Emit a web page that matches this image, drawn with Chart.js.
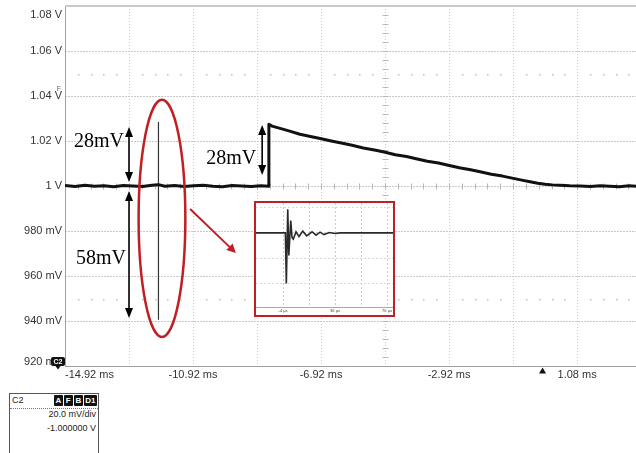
<!DOCTYPE html>
<html>
<head>
<meta charset="utf-8">
<script src="https://cdn.jsdelivr.net/npm/chart.js@4"></script>
<style>
  html, body { margin: 0; padding: 0; background: #fff; overflow: hidden; }
  #wrap { position: relative; width: 636px; height: 453px; }
  #scope { position: absolute; left: 0; top: 0; }
  #insetBox { position: absolute; left: 254px; top: 201px; width: 141px; height: 116px;
    border: 2px solid #c01f24; box-sizing: border-box; background: #fff; }
  #insetBox canvas { display: block; }
  #info { position: absolute; left: 9px; top: 393px; width: 90px; height: 70px;
    border: 1px solid #555; box-sizing: border-box; background: #fff;
    font-family: "Liberation Sans", Arial, sans-serif; font-size: 9px; color: #222; }
  #info .hdr { position: absolute; left: 0; top: 0; right: 0; height: 14px; border-bottom: 1px dotted #777; }
  #info .ch { position: absolute; left: 2px; top: 1px; line-height: 11px; }
  #info .tags { position: absolute; right: 1px; top: 1px; }
  #info .tags b { display: inline-block; background: #111; color: #fff; font-size: 8px; line-height: 11px;
    padding: 0 1.5px; margin-left: 1px; border-radius: 1px; min-width: 6px; text-align: center; }
  #info .row { position: absolute; right: 2px; line-height: 12px; }
</style>
</head>
<body>
<div id="wrap">
  <canvas id="scope" width="636" height="453"></canvas>
  <div id="insetBox"><canvas id="inset" width="137" height="112"></canvas></div>
  <div id="info">
    <div class="hdr"><span class="ch">C2</span><span class="tags"><b>A</b><b>F</b><b>B</b><b>D1</b></span></div>
    <div class="row" style="top:14px">20.0 mV/div</div>
    <div class="row" style="top:28px">-1.000000 V</div>
  </div>
</div>
<script>
// main trace, time in ms, level in V
var traceMs = [-14.92, -14.6, -14.3, -14.0, -13.7, -13.4, -13.1, -12.8, -12.5, -12.2,
  -12.0, -11.8, -11.5, -11.2, -10.9, -10.6, -10.3, -10.0, -9.7, -9.4,
  -9.1, -8.8, -8.56,
  -8.55, -8.45, -8.2, -7.9, -7.58, -7.25, -6.95, -6.6, -6.25, -5.95,
  -5.6, -5.25, -4.95, -4.6, -4.25, -3.95, -3.6, -3.25, -2.95, -2.6,
  -2.25, -1.95, -1.6, -1.25, -0.95, -0.65, -0.39, -0.15, 0.08, 0.3,
  0.55, 0.85, 1.17, 1.5, 1.8, 2.1, 2.4, 2.7, 2.92];
var traceV = [1.0002, 0.9998, 1.0003, 0.9999, 1.0001, 0.9997, 1.0002, 1.0000, 0.9998, 1.0003,
  1.0006, 0.9999, 1.0002, 0.9998, 1.0001, 1.0003, 0.9999, 0.9997, 1.0002, 1.0000,
  0.9998, 1.0001, 0.9999,
  1.0274, 1.0266, 1.0256, 1.0244, 1.0230, 1.0220, 1.0211, 1.0200, 1.0190, 1.0181,
  1.0169, 1.0160, 1.0151, 1.0139, 1.0131, 1.0121, 1.0110, 1.0102, 1.0092, 1.0081,
  1.0072, 1.0063, 1.0052, 1.0044, 1.0035, 1.0026, 1.0019, 1.0012, 1.0008, 1.0005,
  1.0003, 1.0001, 1.0000, 0.9998, 1.0001, 0.9999, 0.9997, 1.0001, 0.9999];

// the fast glitch (too quick to resolve at 2 ms/div)
var spikeMs = [-12.0, -12.0];
var spikeV = [1.0285, 0.9406];

// zoomed view of the glitch, time in us
var insetUs = [-24.8, -2.2, -1.46, -0.38, 0.46, 1.92, 2.92, 3.92, 6.0, 8.3,
  11.15, 14.2, 18.3, 21.4, 24.5, 27.5, 31.6, 36.0, 40.0, 80.6];
var insetV = [1.000, 1.000, 0.944, 1.026, 0.975, 1.0137, 0.995, 0.9931, 1.0012, 0.9959,
  1.0019, 0.9967, 1.0012, 0.9974, 1.0008, 0.9981, 1.0004, 0.9993, 1.000, 1.000];

// graticule and labels
var xGridMs = [-14.92, -12.92, -10.92, -8.92, -6.92, -4.92, -2.92, -0.92, 1.08];
var xLabelMs = [-14.92, -10.92, -6.92, -2.92, 1.08];
var xLabels = ['-14.92 ms', '-10.92 ms', '-6.92 ms', '-2.92 ms', '1.08 ms'];
var yGridV = [0.92, 0.94, 0.96, 0.98, 1.00, 1.02, 1.04, 1.06, 1.08];
var yLabelV = [1.08, 1.06, 1.04, 1.02, 1.00, 0.98, 0.96, 0.94, 0.92];
var yLabels = ['1.08 V', '1.06 V', '1.04 V', '1.02 V', '1 V', '980 mV', '960 mV', '940 mV', '920 mV'];
var insetGridUs = [-4, 16, 36, 56, 76];
var insetLabels = ['-4 \u00b5s', '', '36 \u00b5s', '', '76 \u00b5s'];
var insetGridV = [0.944, 0.972, 1.000, 1.028];

var X_MIN = -14.92, X_MAX = 2.92, Y_MIN = 0.92, Y_MAX = 1.08;
var X_CENTER = -4.92, Y_CENTER = 1.0, X_MINOR = 0.4, Y_MINOR = 0.004;
var TRIGGER_MS = 0;
var RED = '#c01f24';

function pts(xs, ys) {
  return xs.map(function (x, i) { return { x: x, y: ys[i] }; });
}

function headAt(ctx, x, y, ang, len, half) {
  ctx.beginPath();
  ctx.moveTo(x, y);
  ctx.lineTo(x - len * Math.cos(ang) + half * Math.sin(ang), y - len * Math.sin(ang) - half * Math.cos(ang));
  ctx.lineTo(x - len * Math.cos(ang) - half * Math.sin(ang), y - len * Math.sin(ang) + half * Math.cos(ang));
  ctx.closePath();
  ctx.fill();
}

function doubleArrow(ctx, x, yTop, yBot) {
  ctx.beginPath();
  ctx.moveTo(x, yTop + 6);
  ctx.lineTo(x, yBot - 6);
  ctx.stroke();
  headAt(ctx, x, yTop, -Math.PI / 2, 10, 4);
  headAt(ctx, x, yBot, Math.PI / 2, 10, 4);
}

var scopeDecor = {
  id: 'scopeDecor',
  beforeDatasetsDraw: function (chart) {
    var ctx = chart.ctx, a = chart.chartArea, xs = chart.scales.x, ys = chart.scales.y;
    var cx = Math.round(xs.getPixelForValue(X_CENTER)) + 0.5;
    var cy = Math.round(ys.getPixelForValue(Y_CENTER)) + 0.5;
    var k, px, py;
    ctx.save();
    // minor ticks along the centre axes
    ctx.strokeStyle = '#b8b8b8';
    ctx.lineWidth = 1;
    ctx.beginPath();
    for (k = 1; X_MIN + k * X_MINOR < X_MAX; k++) {
      px = Math.round(xs.getPixelForValue(X_MIN + k * X_MINOR)) + 0.5;
      ctx.moveTo(px, cy - 3); ctx.lineTo(px, cy + 3);
    }
    for (k = 1; Y_MIN + k * Y_MINOR < Y_MAX - 1e-9; k++) {
      py = Math.round(ys.getPixelForValue(Y_MIN + k * Y_MINOR)) + 0.5;
      ctx.moveTo(cx - 3, py); ctx.lineTo(cx + 3, py);
    }
    ctx.stroke();
    // dotted rows between the outer gridlines
    ctx.fillStyle = '#bdbdbd';
    [1.05, 0.95].forEach(function (v) {
      var y = Math.round(ys.getPixelForValue(v));
      for (k = 1; X_MIN + k * X_MINOR < X_MAX; k++) {
        if (k % 5 === 0) continue;
        ctx.fillRect(Math.round(xs.getPixelForValue(X_MIN + k * X_MINOR)), y, 1.5, 1.5);
      }
    });
    // frame
    ctx.strokeStyle = '#a0a0a0';
    ctx.beginPath();
    ctx.moveTo(a.left + 0.5, a.top);
    ctx.lineTo(a.left + 0.5, a.bottom + 0.5);
    ctx.lineTo(a.right, a.bottom + 0.5);
    ctx.stroke();
    ctx.strokeStyle = '#cacaca';
    ctx.lineWidth = 2;
    ctx.beginPath();
    ctx.moveTo(a.left, a.top);
    ctx.lineTo(a.right, a.top);
    ctx.stroke();
    ctx.restore();
  },
  afterDraw: function (chart) {
    var ctx = chart.ctx, a = chart.chartArea, xs = chart.scales.x, ys = chart.scales.y;
    ctx.save();
    // axis labels
    ctx.font = '11px "Liberation Sans", Arial, sans-serif';
    ctx.fillStyle = '#333';
    ctx.textBaseline = 'middle';
    ctx.textAlign = 'right';
    yLabelV.forEach(function (v, i) {
      var py = ys.getPixelForValue(v);
      if (i === 0) py += 9;
      else if (i === yLabelV.length - 1) py -= 4;
      ctx.fillText(yLabels[i], a.left - 3, py);
    });
    xLabelMs.forEach(function (t, i) {
      ctx.textAlign = i === 0 ? 'left' : 'center';
      ctx.fillText(xLabels[i], xs.getPixelForValue(t), a.bottom + 9);
    });

    // channel marker C2
    ctx.fillStyle = '#111';
    ctx.beginPath();
    ctx.roundRect(a.left - 14, a.bottom - 9, 14, 9, 2);
    ctx.fill();
    ctx.beginPath();
    ctx.moveTo(a.left - 9.5, a.bottom);
    ctx.lineTo(a.left - 4.5, a.bottom);
    ctx.lineTo(a.left - 7, a.bottom + 3.5);
    ctx.fill();
    ctx.fillStyle = '#fff';
    ctx.font = 'bold 7px "Liberation Sans", Arial, sans-serif';
    ctx.textAlign = 'center';
    ctx.fillText('C2', a.left - 7, a.bottom - 4.3);

    // F marker near 1.04 V
    ctx.fillStyle = '#666';
    ctx.font = '7px "Liberation Sans", Arial, sans-serif';
    ctx.fillText('F', a.left - 6, ys.getPixelForValue(1.04) - 7);

    // trigger position
    var tx = xs.getPixelForValue(TRIGGER_MS);
    ctx.fillStyle = '#111';
    ctx.beginPath();
    ctx.moveTo(tx, a.bottom + 1.5);
    ctx.lineTo(tx + 3.5, a.bottom + 7.5);
    ctx.lineTo(tx - 3.5, a.bottom + 7.5);
    ctx.fill();

    // black measurement arrows and text
    ctx.strokeStyle = '#000';
    ctx.fillStyle = '#000';
    ctx.lineWidth = 1.6;
    var x1 = xs.getPixelForValue(-12.92), x2 = xs.getPixelForValue(-8.76);
    doubleArrow(ctx, x1, ys.getPixelForValue(1.0262), ys.getPixelForValue(1.0018));
    doubleArrow(ctx, x1, ys.getPixelForValue(0.9978), ys.getPixelForValue(0.9413));
    doubleArrow(ctx, x2, ys.getPixelForValue(1.0271), ys.getPixelForValue(1.0049));
    ctx.font = '20px "Liberation Serif", "Times New Roman", serif';
    ctx.textAlign = 'right';
    ctx.textBaseline = 'middle';
    ctx.fillText('28mV', x1 - 5, ys.getPixelForValue(1.0196));
    ctx.fillText('58mV', x1 - 3, ys.getPixelForValue(0.9676));
    ctx.fillText('28mV', x2 - 6, ys.getPixelForValue(1.012));

    // red ellipse round the glitch and pointer to the zoom
    var ex = xs.getPixelForValue(-11.89), ey = ys.getPixelForValue(0.9856);
    var rx = xs.getPixelForValue(-11.89 + 0.73) - ex;
    var ry = ey - ys.getPixelForValue(0.9856 + 0.0527);
    ctx.strokeStyle = RED;
    ctx.fillStyle = RED;
    ctx.lineWidth = 2.5;
    ctx.beginPath();
    ctx.ellipse(ex, ey, rx, ry, 0, 0, Math.PI * 2);
    ctx.stroke();
    var p1x = xs.getPixelForValue(-11.01), p1y = ys.getPixelForValue(0.9898);
    var p2x = xs.getPixelForValue(-9.58), p2y = ys.getPixelForValue(0.9702);
    var ang = Math.atan2(p2y - p1y, p2x - p1x);
    ctx.lineWidth = 2;
    ctx.beginPath();
    ctx.moveTo(p1x, p1y);
    ctx.lineTo(p2x - 6 * Math.cos(ang), p2y - 6 * Math.sin(ang));
    ctx.stroke();
    headAt(ctx, p2x, p2y, ang, 9, 4.5);
    ctx.restore();
  }
};

new Chart(document.getElementById('scope'), {
  type: 'line',
  data: {
    datasets: [
      { data: pts(traceMs, traceV), borderColor: '#111', borderWidth: 3, borderJoinStyle: 'round',
        pointRadius: 0, tension: 0 },
      { data: pts(spikeMs, spikeV), borderColor: '#333', borderWidth: 1.2, pointRadius: 0, tension: 0 }
    ]
  },
  options: {
    responsive: false,
    animation: false,
    events: [],
    layout: { padding: { top: 6, right: 0, left: 0, bottom: 0 } },
    plugins: { legend: { display: false }, tooltip: { enabled: false } },
    scales: {
      x: {
        type: 'linear', min: X_MIN, max: X_MAX,
        afterBuildTicks: function (s) { s.ticks = xGridMs.map(function (v) { return { value: v }; }); },
        afterFit: function (s) { s.height = 87; },
        ticks: { display: false },
        grid: { color: '#c9c9c9', lineWidth: 1, drawTicks: false },
        border: { display: false, dash: [1, 2] }
      },
      y: {
        min: Y_MIN, max: Y_MAX,
        afterBuildTicks: function (s) { s.ticks = yGridV.map(function (v) { return { value: v }; }); },
        afterFit: function (s) { s.width = 65; },
        ticks: { display: false },
        grid: { color: '#c9c9c9', lineWidth: 1, drawTicks: false },
        border: { display: false, dash: [2, 1] }
      }
    }
  },
  plugins: [scopeDecor]
});

new Chart(document.getElementById('inset'), {
  type: 'line',
  data: {
    datasets: [
      { data: pts(insetUs, insetV), borderColor: '#2a2a2a', borderWidth: 1.6, pointRadius: 0, tension: 0 }
    ]
  },
  options: {
    responsive: false,
    animation: false,
    events: [],
    layout: { padding: 0 },
    plugins: { legend: { display: false }, tooltip: { enabled: false } },
    scales: {
      x: {
        type: 'linear', min: -24.8, max: 80.6,
        afterBuildTicks: function (s) { s.ticks = insetGridUs.map(function (v) { return { value: v }; }); },
        afterFit: function (s) { s.height = 8; },
        ticks: {
          autoSkip: false, maxRotation: 0, padding: 1, color: '#444',
          font: { size: 4, family: '"Liberation Sans", Arial, sans-serif' },
          callback: function (v, i) { return insetLabels[i]; }
        },
        grid: { color: '#cdcdcd', drawTicks: false },
        border: { display: true, color: '#aaa', width: 1, dash: [2, 2] }
      },
      y: {
        min: 0.918, max: 1.033,
        afterBuildTicks: function (s) { s.ticks = insetGridV.map(function (v) { return { value: v }; }); },
        afterFit: function (s) { s.width = 0; },
        ticks: { display: false },
        grid: { color: '#d6d6d6', drawTicks: false },
        border: { display: false, dash: [2, 2] }
      }
    }
  }
});
</script>
</body>
</html>
